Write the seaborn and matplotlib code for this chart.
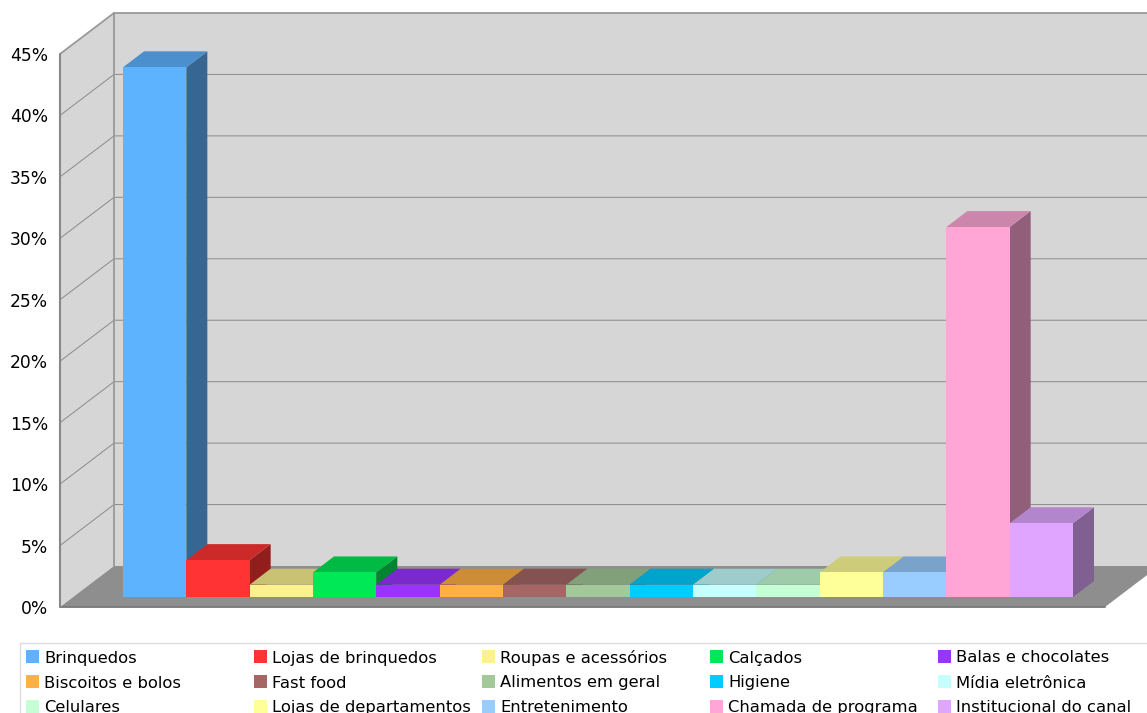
import matplotlib
matplotlib.use("Agg")
import matplotlib.pyplot as plt
from matplotlib.patches import Polygon, Rectangle
from matplotlib.colors import to_rgb
import seaborn as sns

categories = ["Brinquedos", "Lojas de brinquedos", "Roupas e acessórios", "Calçados",
              "Balas e chocolates", "Biscoitos e bolos", "Fast food", "Alimentos em geral",
              "Higiene", "Mídia eletrônica", "Celulares", "Lojas de departamentos",
              "Entretenimento", "Chamada de programa", "Institucional do canal"]
shares = [43.1, 3, 1, 2, 1, 1, 1, 1, 1, 1, 1, 2, 2, 30.1, 6]
colors = ["#5EB3FF", "#FF3333", "#FBF28F", "#00E855", "#9933FF", "#FFB043", "#A66666", "#A3C899",
          "#00CCFF", "#C5FFFF", "#C5FFD5", "#FFFF99", "#99CCFF", "#FFA6D6", "#E0A6FF"]
y_ticks = [0, 5, 10, 15, 20, 25, 30, 35, 40, 45]

W, H = 1147, 713
PX_PER_PCT = 553 / 45
WALL_DX, WALL_DY = 54, 41
BAR_DX, BAR_DY = 21, 16
BAR_W = 950 / 15

sns.set_theme(style="white")
plt.rcParams["font.family"] = ["DejaVu Sans"]
fig = plt.figure(figsize=(W / 100, H / 100), dpi=100, facecolor="white")


def axes_from_px(left, top, right, bottom):
    return fig.add_axes([left / W, 1 - bottom / H, (right - left) / W, (bottom - top) / H])


def shade(color, factor):
    return tuple(c * factor for c in to_rgb(color))


# Room: front plane of the value axis, with left wall, back wall and floor
room = axes_from_px(60, 54, 1105, 607)
room.set_xlim(0, 1045)
room.set_ylim(0, 45)
room.patch.set_alpha(0)
sns.despine(ax=room, left=True, bottom=True)
room.set_xticks([])
room.set_yticks(y_ticks, [f"{t}%" for t in y_ticks], fontsize=12.3, color="black")
room.tick_params(axis="y", length=0, pad=8.5)
room.grid(False)

wall_rise = WALL_DY / PX_PER_PCT
top = y_ticks[-1]
room.add_patch(Polygon([(WALL_DX, wall_rise), (WALL_DX + 1100, wall_rise),
                        (WALL_DX + 1100, top + wall_rise), (WALL_DX, top + wall_rise)],
                       fc="#D6D6D6", ec="none", clip_on=False, zorder=1))
room.add_patch(Polygon([(0, 0), (WALL_DX, wall_rise), (WALL_DX, top + wall_rise), (0, top)],
                       fc="#D6D6D6", ec="none", clip_on=False, zorder=1))
for t in y_ticks[1:-1]:
    room.plot([0, WALL_DX, WALL_DX + 1100], [t, t + wall_rise, t + wall_rise],
              color="#8C8C8C", lw=0.72, clip_on=False, zorder=2)
room.add_patch(Polygon([(0, 0), (1045, 0), (1045 + WALL_DX, wall_rise), (WALL_DX, wall_rise)],
                       fc="#8E8E8E", ec="none", clip_on=False, zorder=3))
room.plot([0, 1045], [0, 0], color="#777777", lw=1.3, clip_on=False, zorder=4)
room.plot([0, 0, WALL_DX, WALL_DX + 1100], [0, top, top + wall_rise, top + wall_rise],
          color="#999999", lw=1.3, clip_on=False, zorder=4)
room.plot([0, 0], [0, top], color="#888888", lw=1.5, clip_on=False, zorder=4)
room.plot([WALL_DX, WALL_DX], [wall_rise, top + wall_rise], color="#999999", lw=1.3,
          clip_on=False, zorder=4)

# Bars: front faces from seaborn, top and side faces extruded from each value
bars = axes_from_px(123, 44, 1073, 597)
bars.patch.set_alpha(0)
sns.barplot(x=categories, y=shares, hue=categories, palette=colors, width=1, dodge=False,
            legend=False, saturation=1, ax=bars, linewidth=0)
bars.set_xlim(-0.5, 14.5)
bars.set_ylim(0, 45)
bars.set_axis_off()

dx = BAR_DX / BAR_W
dy = BAR_DY / PX_PER_PCT
for i, (patch, value, color) in enumerate(zip(bars.patches, shares, colors)):
    left = i - 0.5
    right = i + 0.5
    patch.set_zorder(10 + 3 * i)
    patch.set_clip_on(False)
    bars.add_patch(Polygon([(right, 0), (right + dx, dy), (right + dx, value + dy), (right, value)],
                           fc=shade(color, 0.57), ec="none", clip_on=False, zorder=9 + 3 * i))
    bars.add_patch(Polygon([(left, value), (left + dx, value + dy), (right + dx, value + dy), (right, value)],
                           fc=shade(color, 0.8), ec="none", clip_on=False, zorder=9 + 3 * i))

# Legend panel: five equal columns, running off the lower edge of the figure
overlay = fig.add_axes([0, 0, 1, 1])
overlay.set_xlim(0, W)
overlay.set_ylim(H, 0)
overlay.set_axis_off()
overlay.patch.set_alpha(0)
overlay.add_patch(Rectangle((20, 643), 1140, 90, fc="white", ec="#DDDDDD", lw=1))
rows_y = [656.5, 681.5, 706]
for i, (label, color) in enumerate(zip(categories, colors)):
    row, col = divmod(i, 5)
    x = 26 + 228 * col
    y = rows_y[row]
    overlay.add_patch(Rectangle((x, y - 6.5), 13, 13, fc=color, ec="none"))
    overlay.text(x + 18, y + 6, label, fontsize=11.8, va="baseline", ha="left", color="black")

fig.savefig("out.png", dpi=100, facecolor="white")
